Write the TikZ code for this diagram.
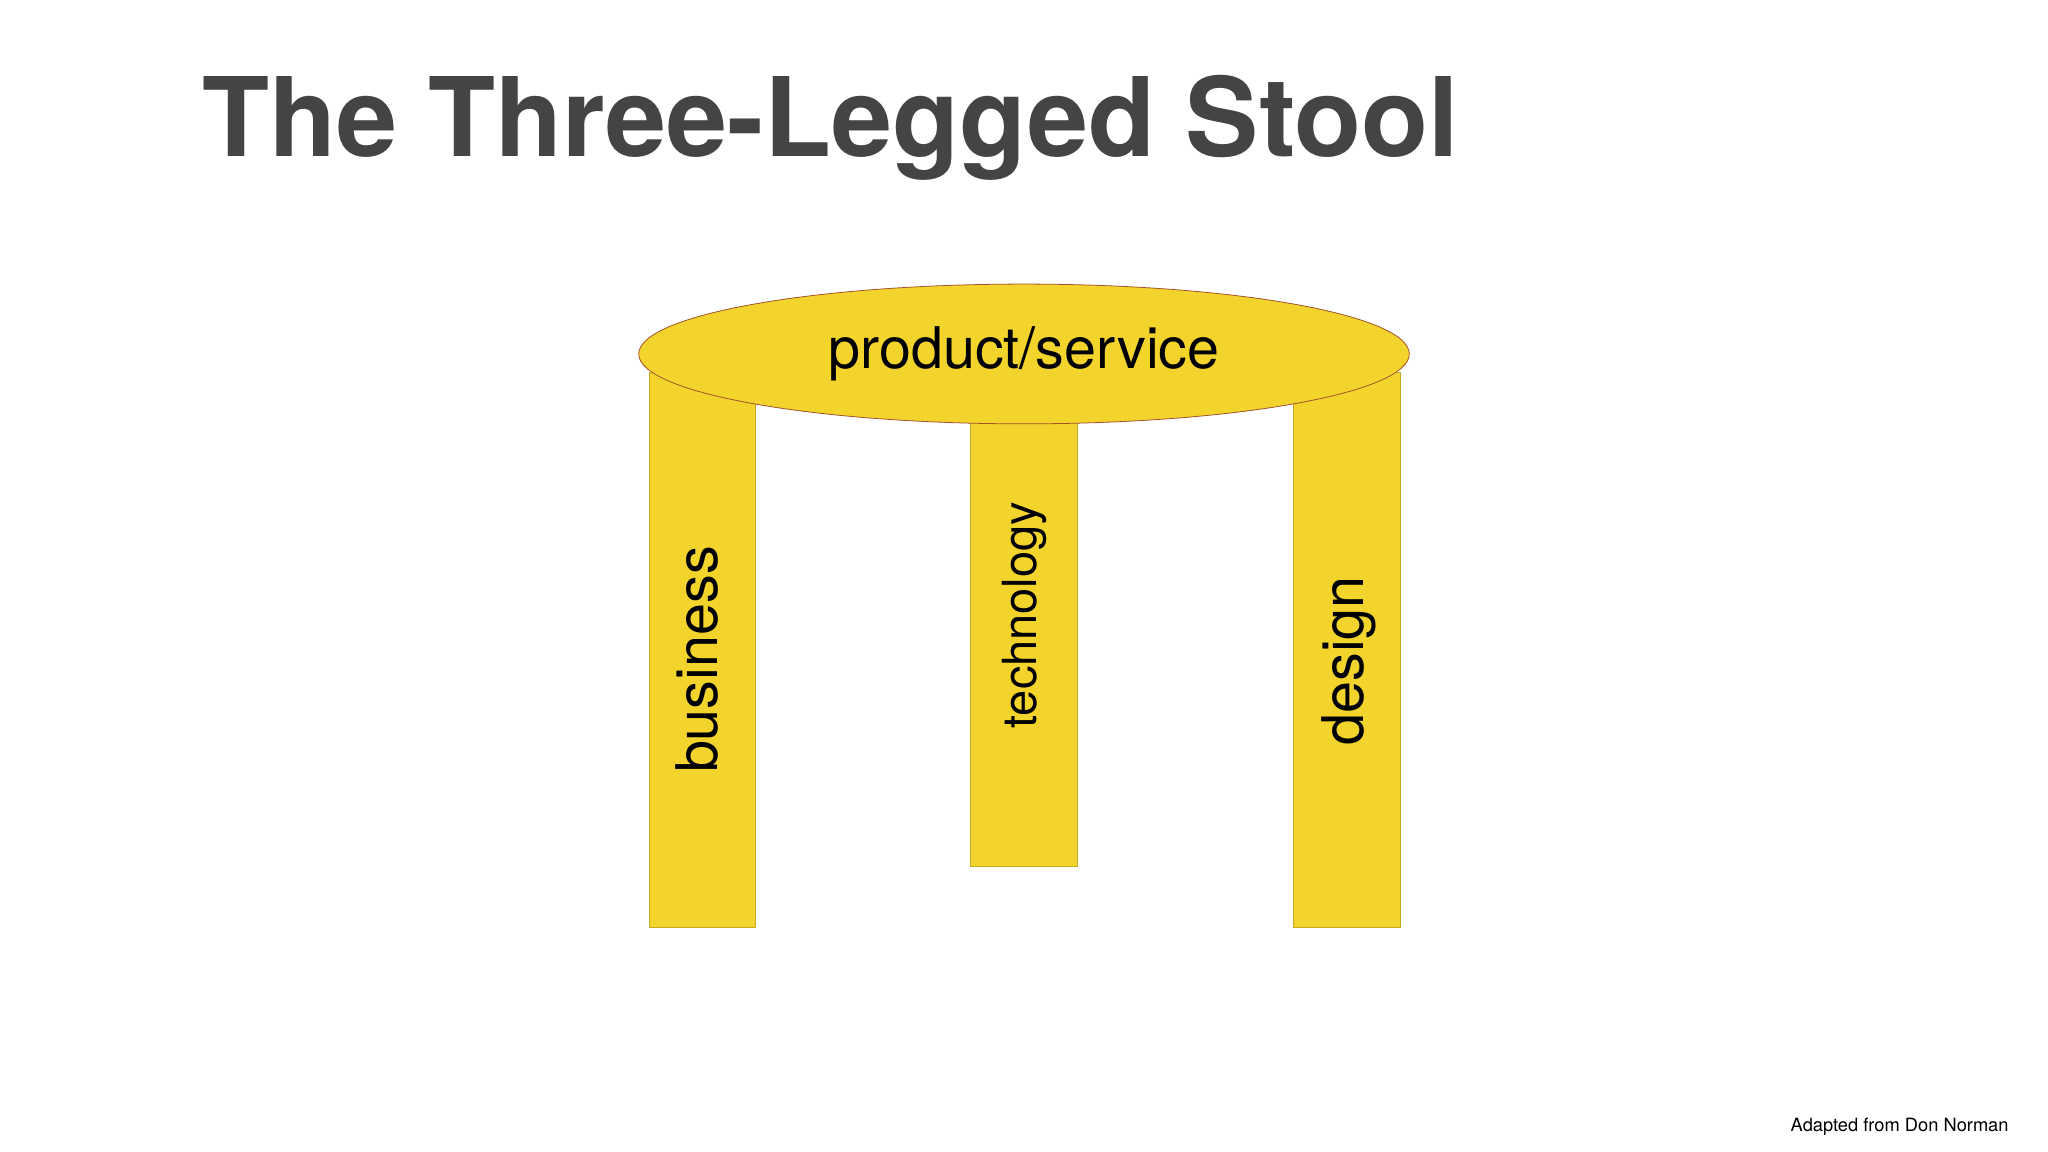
\documentclass[tikz,border=0pt]{standalone}
\usetikzlibrary{shapes.geometric}
\usepackage{fontspec}
\setmainfont{TeX Gyre Heros}
\definecolor{stool}{HTML}{F3D42C}
\definecolor{rim}{HTML}{A0522D}
\definecolor{titlegrey}{HTML}{444444}
\begin{document}
\begin{tikzpicture}[x=1pt,y=-1pt,
  leg/.style={fill=stool,draw=stool!80!black,line width=0.4pt},
  legtext/.style={rotate=90,font=\fontsize{44}{44}\selectfont,text=black}]
\useasboundingbox (0,0) rectangle (1568,882);
\fill[white] (0,0) rectangle (1568,882);
\node[anchor=base west,font=\bfseries\fontsize{84}{84}\selectfont,text=titlegrey,inner sep=0] (title) at (155,120) {The Three-Legged Stool};
\path[leg] (497,285) rectangle (578,710);
\path[leg] (743,320) rectangle (825,663);
\path[leg] (990,285) rectangle (1072,710);
\node[legtext] (business) at (534,505) {business};
\node[legtext,font=\fontsize{36}{36}\selectfont] (tech) at (784,471) {technology};
\node[legtext] (design) at (1033,506) {design};
\node[ellipse,fill=stool,draw=rim,line width=0.6pt,minimum width=590,minimum height=107,inner sep=0] (top) at (784,271) {};
\node[font=\fontsize{44}{44}\selectfont] (ps) at (784,271) {product/service};
\node[anchor=base east,font=\fontsize{14}{14}\selectfont,inner sep=0] (foot) at (1538,866) {Adapted from Don Norman};
\end{tikzpicture}
\end{document}
